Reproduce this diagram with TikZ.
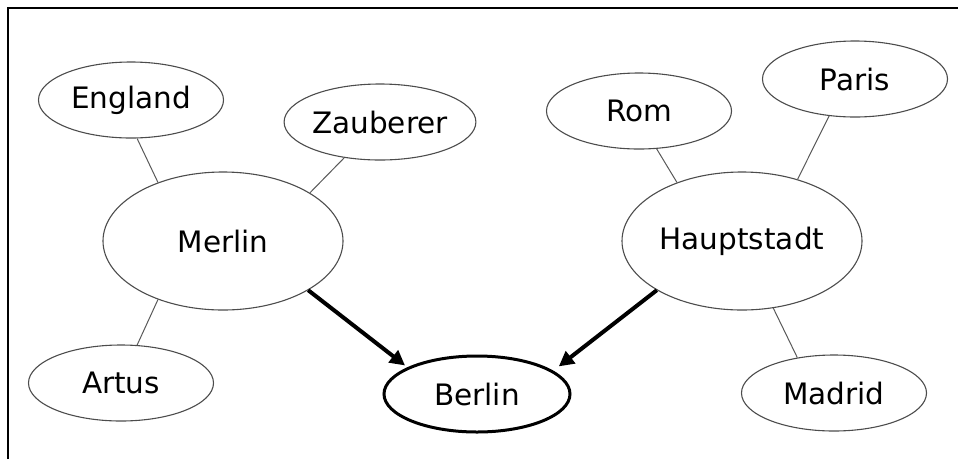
\documentclass[tikz,border=0pt]{standalone}
\usepackage{fontspec}
\setmainfont{DejaVu Sans}
\usetikzlibrary{shapes.geometric,arrows.meta}
\begin{document}
\begin{tikzpicture}[x=1pt,y=-1pt,
  bubble/.style={ellipse,draw=black!70,line width=1.1pt,inner sep=0pt,
    minimum width=185pt,minimum height=76pt,
    font=\fontsize{29.5}{32}\selectfont},
  hub/.style={bubble,minimum width=240pt,minimum height=138pt},
  goal/.style={bubble,draw=black,line width=3pt,minimum width=186pt,minimum height=76pt},
  link/.style={draw=black!65,line width=1pt},
  push/.style={draw=black,line width=4pt,-{Triangle[length=15pt,width=15pt]}}]
  \useasboundingbox (0,0) rectangle (958,459);
  % frame edges
  \draw[line width=1.3pt] (8,459) -- (8,8) -- (958,8);

  % nodes
  \node[bubble] (england)  at (131,100) {England};
  \node[bubble] (zauberer) at (380,122) {Zauberer};
  \node[hub]    (merlin)   at (223,241) {Merlin};
  \node[bubble] (artus)    at (121,383) {Artus};
  \node[bubble] (rom)      at (639,111) {Rom};
  \node[bubble] (paris)    at (855,79)  {Paris};
  \node[hub]    (haupt)    at (742,241) {Hauptstadt};
  \node[bubble] (madrid)   at (834,393) {Madrid};
  \node[goal]   (berlin)   at (477,394) {Berlin};

  % associations
  \draw[link] (england.-81)   -- (merlin.138);
  \draw[link] (zauberer.-135) -- (merlin.29);
  \draw[link] (artus.67)      -- (merlin.-138);
  \draw[link] (rom.-65)       -- (haupt.138);
  \draw[link] (paris.-125)    -- (haupt.48);
  \draw[link] (madrid.136)    -- (haupt.-65);

  % arrows into the shared concept
  \draw[push,shorten >=3pt] (merlin.-30) -- (berlin.159);
  \draw[push,shorten >=7pt] (haupt.-150) -- (berlin.17);
\end{tikzpicture}
\end{document}
